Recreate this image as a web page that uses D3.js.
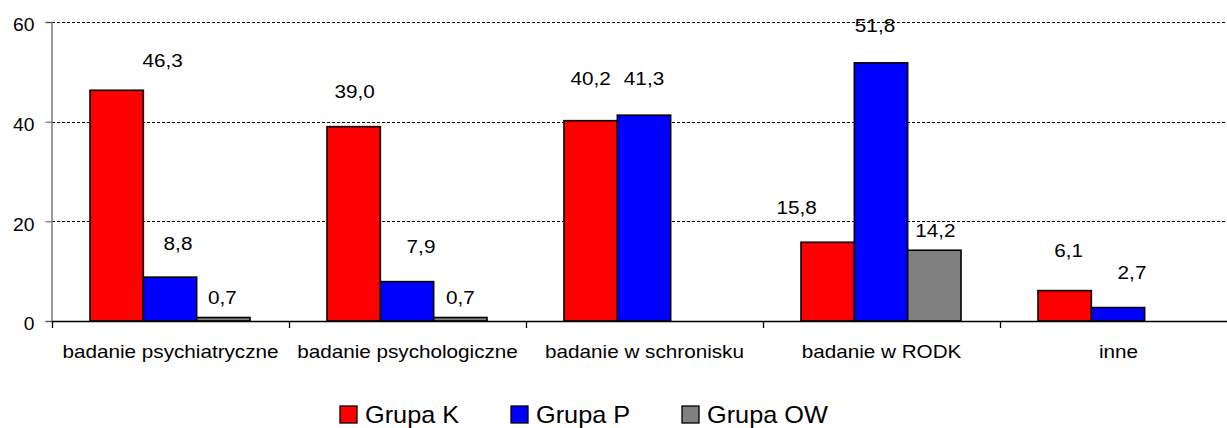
<!DOCTYPE html>
<html>
<head>
<meta charset="utf-8">
<script src="https://cdn.jsdelivr.net/npm/d3@7"></script>
<style>
  body { margin: 0; background: #fff; }
  text { font-family: "Liberation Sans", Arial, sans-serif; fill: #000; }
</style>
</head>
<body>
<div id="chart"></div>
<script>
// Data
const categories = ["badanie psychiatryczne", "badanie psychologiczne", "badanie w schronisku", "badanie w RODK", "inne"];
const seriesNames = ["Grupa K", "Grupa P", "Grupa OW"];
const grupaK = [46.3, 39.0, 40.2, 15.8, 6.1];
const grupaP = [8.8, 7.9, 41.3, 51.8, 2.7];
const grupaOW = [0.7, 0.7, null, 14.2, null];
const yTicks = [0, 20, 40, 60];

const colors = ["#ff0000", "#0000ff", "#808080"];

// label placement relative to the top of each bar [dx, dy], as in the original
const labelOffsets = [
    [[46, -23], [1, -29], [0, -36], [-31, -28], [4, -34]],
    [[8, -27], [14, -29], [0, -30], [-6, -31], [14, -29]],
    [[-1, -14], [0, -14], null, [1, -13], null]
];

const width = 1227, height = 428;
const margin = {top: 22, left: 52, bottom: 107};
const plotBottom = height - margin.bottom;

const svg = d3.select("#chart")
    .append("svg")
    .attr("width", width)
    .attr("height", height);

const allSeries = [grupaK, grupaP, grupaOW];

// Scales
const x0 = d3.scaleBand()
    .domain(categories)
    .range([margin.left, margin.left + 237 * categories.length])
    .padding(0);

const x1 = d3.scaleBand()
    .domain(seriesNames)
    .range([38, 198])
    .padding(0);

const y = d3.scaleLinear()
    .domain([0, 60])
    .range([plotBottom, margin.top]);

// Grid lines
svg.append("g")
    .selectAll("line")
    .data(yTicks.filter(d => d > 0))
    .join("line")
    .attr("x1", margin.left)
    .attr("x2", width)
    .attr("y1", d => Math.round(y(d)) + 0.5)
    .attr("y2", d => Math.round(y(d)) + 0.5)
    .attr("stroke", "#000")
    .attr("stroke-width", 1)
    .attr("stroke-dasharray", "3,2");

// Y axis
const yAxis = svg.append("g")
    .attr("transform", `translate(${margin.left - 0.5},0)`)
    .call(d3.axisLeft(y).tickValues(yTicks).tickSize(6).tickFormat(d3.format("d")));
yAxis.select(".domain").attr("stroke", "#7a7a7a").attr("stroke-width", 1.5);
yAxis.selectAll(".tick line").attr("stroke", "#555");
yAxis.selectAll(".tick text")
    .attr("x", -15.5)
    .attr("dy", "0.5em")
    .attr("transform", "scale(1.1,1)")
    .style("font-size", "17.5px")
    .style("font-family", "'Liberation Sans', Arial, sans-serif");

// Bars
const bars = [];
allSeries.forEach((vals, si) => {
    vals.forEach((v, ci) => {
        if (v != null) bars.push({cat: categories[ci], ci, series: seriesNames[si], si, value: v});
    });
});

svg.append("g")
    .selectAll("rect")
    .data(bars)
    .join("rect")
    .attr("x", d => x0(d.cat) + x1(d.series))
    .attr("y", d => y(d.value))
    .attr("width", x1.bandwidth())
    .attr("height", d => plotBottom - y(d.value))
    .attr("fill", d => colors[d.si])
    .attr("stroke", "#000")
    .attr("stroke-width", 1.6);

// X axis line and ticks at category boundaries
svg.append("line")
    .attr("x1", margin.left)
    .attr("x2", width)
    .attr("y1", plotBottom + 0.5)
    .attr("y2", plotBottom + 0.5)
    .attr("stroke", "#000")
    .attr("stroke-width", 1.5);

svg.append("g")
    .selectAll("line")
    .data(categories)
    .join("line")
    .attr("x1", d => Math.round(x0(d)) + 0.5)
    .attr("x2", d => Math.round(x0(d)) + 0.5)
    .attr("y1", plotBottom)
    .attr("y2", plotBottom + 7)
    .attr("stroke", "#000")
    .attr("stroke-width", 1.3);

// Category labels
const xAxis = svg.append("g")
    .attr("transform", `translate(0,${plotBottom})`)
    .call(d3.axisBottom(x0).tickSize(0));
xAxis.select(".domain").remove();
xAxis.selectAll(".tick text")
    .attr("y", 37)
    .attr("dy", 0)
    .attr("transform", "scale(1.15,1)")
    .attr("x", 0)
    .style("font-size", "18px")
    .style("font-family", "'Liberation Sans', Arial, sans-serif");

// Value labels
const fmt = v => d3.format(".1f")(v).replace(".", ",");
svg.append("g")
    .selectAll("text")
    .data(bars)
    .join("text")
    .attr("text-anchor", "middle")
    .attr("transform", d => {
        const off = labelOffsets[d.si][d.ci] || [0, -29];
        const cx = x0(d.cat) + x1(d.series) + x1.bandwidth() / 2 + off[0];
        const cy = y(d.value) + off[1];
        return `translate(${cx},${cy}) scale(1.12,1)`;
    })
    .style("font-size", "18.5px")
    .text(d => fmt(d.value));

// Legend
const legend = svg.append("g")
    .selectAll("g")
    .data(seriesNames)
    .join("g")
    .attr("transform", (d, i) => `translate(${340 + i * 171},406)`);

legend.append("rect")
    .attr("width", 17)
    .attr("height", 17)
    .attr("fill", (d, i) => colors[i])
    .attr("stroke", "#000")
    .attr("stroke-width", 1.3);

legend.append("text")
    .attr("transform", "translate(25,17) scale(1.1,1)")
    .style("font-size", "23px")
    .text(d => d);
</script>
</body>
</html>
